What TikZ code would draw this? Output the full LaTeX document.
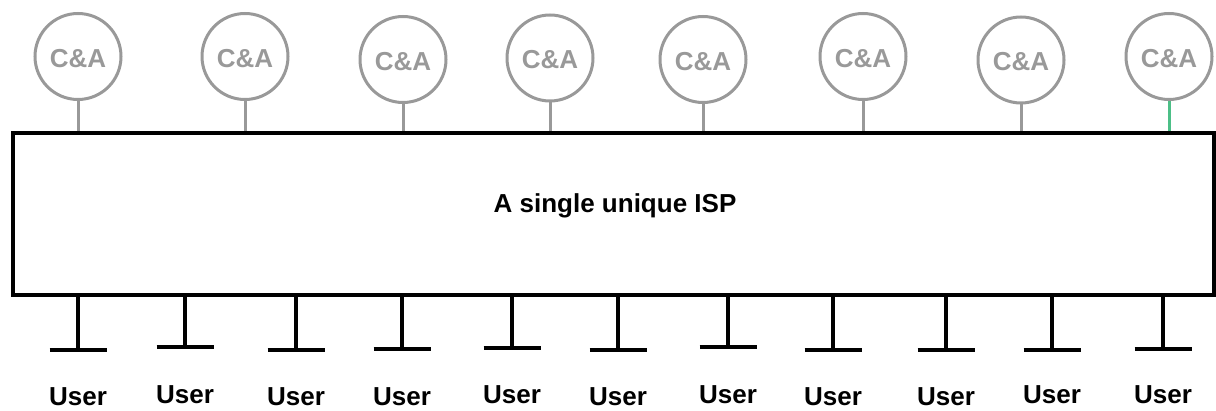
\documentclass[tikz,border=0pt]{standalone}
\usepackage{fontspec}
\setmainfont{Liberation Sans}
\usepackage{tikz}
\usetikzlibrary{positioning,calc}
\definecolor{cagray}{HTML}{999999}
\definecolor{linkgreen}{HTML}{4CBF87}

\begin{document}
\begin{tikzpicture}[x=1pt, y=-1pt,
        ispbox/.style={draw, line width=4pt, rectangle, minimum width=1201pt, minimum height=162pt, inner sep=0pt},
        cabox/.style={draw=cagray, text=cagray, line width=3pt, circle, minimum size=86pt, inner sep=0pt, text height=21.6pt, text depth=0pt, font=\bfseries\fontsize{26}{31}\selectfont},
        castem/.style={draw=cagray, line width=3pt},
        userstem/.style={line width=3.5pt},
        userbar/.style={line width=4pt},
        userlabel/.style={anchor=base, inner sep=0pt, font=\bfseries\fontsize{26}{31}\selectfont}
    ]
        \useasboundingbox (0,0) rectangle (1216,411);

        \node [ispbox] (isp) at (613,214.5) {};
        \node [userlabel] (ispname) at (615,213) {A single unique ISP};

        % C&A circles on top
        \foreach \x/\y [count=\i] in {78/56.5, 245/56.5, 403/59.5, 550/58, 703/59.5, 863/56.5, 1021/60, 1169/56.5} {
            \node [cabox] (ca\i) at (\x,\y) {C\&A};
        }
        \foreach \i in {1,...,7}
            \draw [castem] (ca\i.south) -- (ca\i.south |- isp.north);
        \draw [castem, draw=linkgreen] (ca8.south) -- (ca8.south |- isp.north);

        % users below
        \foreach \x/\b/\t [count=\i] in {78/350/406, 185/347.5/404, 296/350/406, 402/349/405.5, 512/348/404, 618/350.5/406, 728/347.5/403.5, 833/350.5/406, 946/350.5/406, 1052/350/404, 1163/349/404} {
            \coordinate (bar\i) at (\x,\b);
            \draw [userstem] (bar\i |- isp.south) -- (bar\i);
            \draw [userbar] ($(bar\i)+(-28.5,0)$) -- ($(bar\i)+(28.5,0)$);
            \node [userlabel] (user\i) at (\x,\t) {User};
        }
    \end{tikzpicture}
\end{document}
